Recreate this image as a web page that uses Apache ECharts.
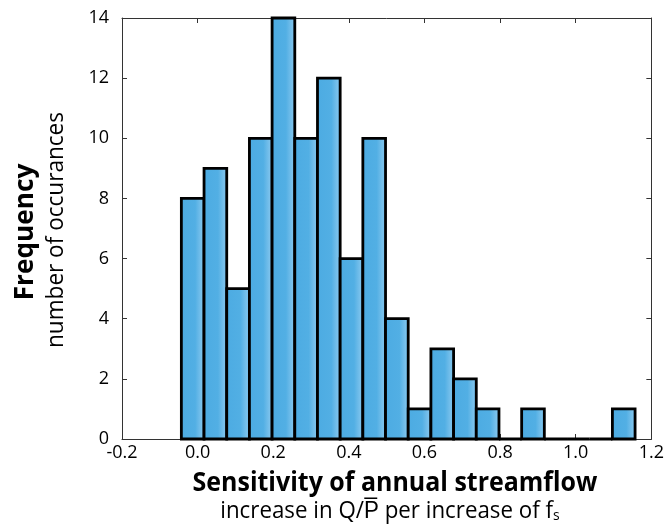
<!DOCTYPE html>
<html>
<head>
<meta charset="utf-8">
<script src="https://cdn.jsdelivr.net/npm/echarts@6/dist/echarts.min.js"></script>
<style>html,body{margin:0;padding:0;background:#fff;}#c{width:667px;height:529px;}</style>
</head>
<body>
<div id="c"></div>
<script>
// Histogram bin edges (sensitivity values)
var binEdges = [-0.043, 0.017, 0.077, 0.137, 0.197, 0.257, 0.317, 0.377, 0.437, 0.497,
                0.557, 0.617, 0.677, 0.737, 0.797, 0.857, 0.917, 0.977, 1.037, 1.097, 1.157];
// Counts per bin
var counts = [8, 9, 5, 10, 14, 10, 12, 6, 10, 4, 1, 3, 2, 1, 0, 1, 0, 0, 0, 1];
var xTicks = [-0.2, 0.0, 0.2, 0.4, 0.6, 0.8, 1.0, 1.2];
var yTicks = [0, 2, 4, 6, 8, 10, 12, 14];
var xTitle = 'Sensitivity of annual streamflow';
var xSub = 'increase in Q/{ov|P\u0305} per increase of f{sub|s}';
var yTitle = 'Frequency';
var ySub = 'number of occurances';

var data = counts.map(function (c, i) { return [binEdges[i], binEdges[i + 1], c]; });

var FONT = '"Open Sans", sans-serif';
var chart = echarts.init(document.getElementById('c'), null, {renderer: 'canvas'});
function axis(extra) {
  return Object.assign({
    type: 'value',
    axisLine: {show: true, onZero: false, lineStyle: {color: '#333', width: 1}},
    axisTick: {show: true, inside: true, length: 5, lineStyle: {color: '#333', width: 1}},
    splitLine: {show: false}
  }, extra);
}
var option = {
  animation: false,
  backgroundColor: '#fff',
  grid: {left: 122, top: 18, width: 533, height: 421, containLabel: false},
  xAxis: [
    axis({position: 'bottom', min: xTicks[0], max: xTicks[xTicks.length - 1], interval: 0.2,
      axisLabel: {color: '#000', fontSize: 18, fontFamily: FONT, margin: 5,
        formatter: function (v) { return v.toFixed(1); }}}),
    axis({position: 'top', min: xTicks[0], max: xTicks[xTicks.length - 1], interval: 0.2,
      axisLabel: {show: false}})
  ],
  yAxis: [
    axis({position: 'left', min: yTicks[0], max: yTicks[yTicks.length - 1], interval: 2,
      axisLabel: {color: '#000', fontSize: 18, fontFamily: FONT, margin: 13}}),
    axis({position: 'right', min: yTicks[0], max: yTicks[yTicks.length - 1], interval: 2,
      axisLabel: {show: false}})
  ],
  series: [{
    type: 'custom',
    xAxisIndex: 0, yAxisIndex: 0,
    data: data,
    renderItem: function (params, api) {
      var p0 = api.coord([api.value(0), api.value(2)]);
      var p1 = api.coord([api.value(1), 0]);
      return {
        type: 'rect',
        shape: {x: p0[0], y: p0[1], width: p1[0] - p0[0], height: p1[1] - p0[1]},
        style: {
          fill: {type: 'linear', x: 0, y: 0, x2: 1, y2: 0, colorStops: [
            {offset: 0, color: '#4CABE2'}, {offset: 0.6, color: '#52AFE4'},
            {offset: 0.85, color: '#7CC2EC'}, {offset: 1, color: '#55B0E5'}]},
          stroke: '#000', lineWidth: 2.8
        }
      };
    }
  }],
  graphic: [
    {type: 'text', x: 395, y: 484, scaleX: 0.96,
      style: {text: xTitle, font: 'bold 26px ' + FONT, fill: '#000', align: 'center', verticalAlign: 'middle'}},
    {type: 'text', x: 390, y: 511, scaleX: 0.93,
      style: {text: xSub, font: '24px ' + FONT, fill: '#000', align: 'center', verticalAlign: 'middle',
        rich: {ov: {fontSize: 24, fontFamily: FONT},
               sub: {fontSize: 15, fontFamily: FONT, padding: [9, 0, 0, 0]}}}},
    {type: 'text', x: 25, y: 232, rotation: Math.PI / 2, scaleX: 0.97,
      style: {text: yTitle, font: 'bold 27px ' + FONT, fill: '#000', align: 'center', verticalAlign: 'middle'}},
    {type: 'text', x: 56, y: 230, rotation: Math.PI / 2, scaleX: 0.94,
      style: {text: ySub, font: '24px ' + FONT, fill: '#000', align: 'center', verticalAlign: 'middle'}}
  ]
};
chart.setOption(option);
</script>
</body>
</html>
